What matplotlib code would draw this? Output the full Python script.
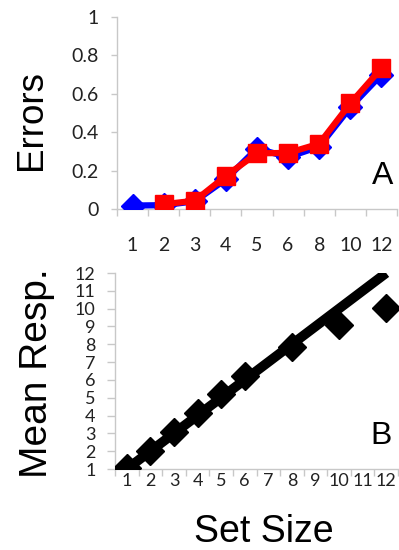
import numpy as np
import matplotlib
matplotlib.use("Agg")
import matplotlib.pyplot as plt

# panel A: errors by set size
set_sizes_a = ['1', '2', '3', '4', '5', '6', '8', '10', '12']
errors_blue = [0.018, 0.02, 0.04, 0.155, 0.315, 0.27, 0.325, 0.53, 0.70]
errors_red = [None, 0.025, 0.043, 0.172, 0.29, 0.292, 0.34, 0.55, 0.733]

# panel B: mean responses
set_sizes_b = [1, 2, 3, 4, 5, 6, 7, 8, 9, 10, 11, 12]
resp_x = [1, 2, 3, 4, 5, 6, 8, 10, 12]
resp_y = [1.05, 2.0, 3.06, 4.15, 5.23, 6.24, 7.85, 9.07, 10.04]
ident = [1, 12]

tick_font = 'Lato'
big_font = 'Liberation Sans'
gray = '#c8c8c8'
W, H = 399, 550

fig = plt.figure(figsize=(W / 100, H / 100), dpi=100)

def style(ax):
    for s in ['top', 'right']:
        ax.spines[s].set_visible(False)
    for s in ['left', 'bottom']:
        ax.spines[s].set_color(gray)
        ax.spines[s].set_linewidth(1.0)
    ax.tick_params(axis='both', colors=gray, labelcolor='#222222', width=1.0, length=5)

# ---- A ----
ax1 = fig.add_axes([117/W, (H-209)/H, 280/W, 192/H])
style(ax1)
n = len(set_sizes_a)
xa = np.arange(n)
yb = np.array(errors_blue, dtype=float)
yr = np.array([np.nan if v is None else v for v in errors_red], dtype=float)
ax1.plot(xa, yb, color='#0000ff', lw=4.5, marker='D', ms=12, mec='#0000ff', zorder=3)
ax1.plot(xa, yr, color='#ff0000', lw=4.5, marker='s', ms=12.5, mec='#ff0000', zorder=4)
ax1.set_xlim(-0.5, n - 0.5)
ax1.set_ylim(0, 1)
ax1.set_yticks(np.arange(0, 1.01, 0.2))
ax1.set_yticklabels(['0', '0.2', '0.4', '0.6', '0.8', '1'], fontfamily=tick_font, fontsize=14)
ax1.set_xticks(np.arange(-0.5, n, 1.0))
ax1.set_xticklabels([])
ax1.set_xticks(xa, minor=True)
ax1.set_xticklabels(set_sizes_a, minor=True, fontfamily=tick_font, fontsize=14)
ax1.tick_params(axis='x', which='major', length=5)
ax1.tick_params(axis='x', which='minor', length=0, pad=20, labelcolor='#222222')
ax1.tick_params(axis='y', length=4.5, pad=9)
fig.text(32/W, 1 - 120/H, 'Errors', fontfamily=big_font, fontsize=26.5, rotation=90,
         ha='center', va='center')
ax1.text(0.95, 0.17, 'A', transform=ax1.transAxes, fontfamily=big_font, fontsize=23,
         ha='center', va='center')

# ---- B ----
ax2 = fig.add_axes([115/W, (H-469)/H, 283/W, 196/H])
style(ax2)
ax2.plot(ident, ident, color='black', lw=7, solid_capstyle='butt', zorder=3)
ax2.plot(resp_x, resp_y, ls='none', color='black', marker='D', ms=14, zorder=4)
ax2.set_xlim(0.5, 12.5)
ax2.set_ylim(1, 12)
ax2.set_yticks(set_sizes_b)
ax2.set_yticklabels([str(v) for v in set_sizes_b], fontfamily=tick_font, fontsize=13)
ax2.set_xticks(np.arange(0.5, 12.6, 1.0))
ax2.set_xticklabels([])
ax2.set_xticks(set_sizes_b, minor=True)
ax2.set_xticklabels([str(v) for v in set_sizes_b], minor=True, fontfamily=tick_font, fontsize=13)
ax2.tick_params(axis='x', which='major', length=5)
ax2.tick_params(axis='x', which='minor', length=0, pad=3, labelcolor='#222222')
ax2.tick_params(axis='y', length=6, pad=8)
fig.text(37/W, 1 - 373/H, 'Mean Resp.', fontfamily=big_font, fontsize=28, rotation=90,
         ha='center', va='center')
fig.text(264/W, 1 - 532/H, 'Set Size', fontfamily=big_font, fontsize=27,
         ha='center', va='center')
ax2.text(0.94, 0.17, 'B', transform=ax2.transAxes, fontfamily=big_font, fontsize=23,
         ha='center', va='center')

fig.savefig('out.png', dpi=100)
